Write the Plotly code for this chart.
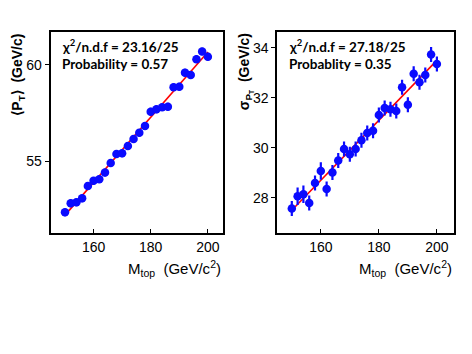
import numpy as np
import plotly.graph_objects as go

# top-quark mass points (GeV/c^2)
mtop = [150, 152, 154, 156, 158, 160, 162, 164, 166, 168, 170, 172, 174,
        176, 178, 180, 182, 184, 186, 188, 190, 192, 194, 196, 198, 200]

# <P_T> (GeV/c)
mean_pt = [52.33, 52.80, 52.85, 53.06, 53.70, 53.97, 54.05, 54.40, 54.90, 55.36,
           55.40, 55.78, 56.15, 56.47, 56.82, 57.57, 57.69, 57.80, 57.83, 58.84,
           58.87, 59.60, 59.48, 60.30, 60.70, 60.43]
mean_pt_err = [0.2, 0.2, 0.2, 0.2, 0.2, 0.2, 0.2, 0.2, 0.2, 0.2, 0.2, 0.2, 0.2,
               0.2, 0.2, 0.2, 0.2, 0.2, 0.2, 0.2, 0.2, 0.2, 0.2, 0.2, 0.2, 0.2]

# sigma of P_T (GeV/c)
sigma_pt = [27.58, 28.07, 28.15, 27.80, 28.60, 29.08, 28.36, 29.02, 29.50, 29.96,
            29.75, 29.96, 30.31, 30.60, 30.69, 31.32, 31.60, 31.55, 31.48, 32.43,
            31.73, 32.97, 32.63, 32.92, 33.74, 33.36]
sigma_pt_err = [0.3, 0.35, 0.35, 0.3, 0.3, 0.35, 0.3, 0.3, 0.3, 0.3, 0.3, 0.3, 0.3,
                0.3, 0.3, 0.3, 0.3, 0.3, 0.3, 0.3, 0.3, 0.3, 0.3, 0.3, 0.3, 0.3]

fit_text_left = ["χ<sup>2</sup>/n.d.f = 23.16/25", "Probability = 0.57"]
fit_text_right = ["χ<sup>2</sup>/n.d.f = 27.18/25", "Probablity = 0.35"]

# page body adds an 8px margin, so the figure is drawn 8px smaller
OFF = 8
W, H = 472 - OFF, 354 - OFF
BLUE = "#0a0aff"
RED = "#ff0000"


def px(x):
    return (x - OFF) / W


def py(y):
    return 1 - (y - OFF) / H


fig = go.Figure()

panels = [
    (mean_pt, mean_pt_err, "x", "y"),
    (sigma_pt, sigma_pt_err, "x2", "y2"),
]
for vals, errs, xa, ya in panels:
    slope, icpt = np.polyfit(mtop, vals, 1)
    fig.add_trace(go.Scatter(
        x=[mtop[0], mtop[-1]], y=[slope * mtop[0] + icpt, slope * mtop[-1] + icpt],
        mode="lines", line=dict(color=RED, width=1.6), xaxis=xa, yaxis=ya,
    ))
    fig.add_trace(go.Scatter(
        x=mtop, y=vals, mode="markers", xaxis=xa, yaxis=ya,
        marker=dict(size=8.5, color=BLUE),
        error_y=dict(type="data", array=errs, color=BLUE, thickness=2.2, width=0),
    ))

ydom = [py(232.7), py(31.7)]
axis_common = dict(
    showline=True, linecolor="black", linewidth=2, mirror=True,
    showgrid=False, zeroline=False, tickcolor="black", automargin=False,
    tickfont=dict(family="Liberation Sans, Arial", size=14, color="black"),
)
fig.update_layout(
    template="none",
    xaxis=dict(domain=[px(50.7), px(223.3)], range=[145, 205.4], anchor="y",
               tickvals=[160, 180, 200], ticks="inside", ticklen=4, **axis_common),
    yaxis=dict(domain=ydom, range=[51.27, 61.73], anchor="x",
               tickvals=[55, 60], ticks="outside", ticklen=4, **axis_common),
    xaxis2=dict(domain=[px(277.3), px(454.3)], range=[145, 206], anchor="y2",
                tickvals=[160, 180, 200], ticks="inside", ticklen=4, **axis_common),
    yaxis2=dict(domain=ydom, range=[26.61, 34.65], anchor="x2",
                tickvals=[28, 30, 32, 34], ticks="outside", ticklen=4, **axis_common),
    width=W, height=H,
    margin=dict(l=0, r=0, t=0, b=0),
    paper_bgcolor="white", plot_bgcolor="white",
    showlegend=False,
)

txt_font = dict(family="Lato, Noto Sans", size=13.5, color="black")
ann = []
for lines, x0 in [(fit_text_left, 59.5), (fit_text_right, 286.5)]:
    for line, yc in zip(lines, [46.5, 64.5]):
        ann.append(dict(text="<b>" + line + "</b>", x=px(x0), y=py(yc), xref="paper", yref="paper",
                        xanchor="left", yanchor="middle", showarrow=False, font=txt_font))

lab_font = dict(family="Liberation Sans, Arial", size=15, color="black")
ytitle_font = dict(family="Liberation Sans, Arial", size=14, color="black")
for xr in [223.3, 454.3]:
    ann.append(dict(text="M<sub>top</sub>  (GeV/c<sup>2</sup>)", x=px(xr), y=py(256),
                    xref="paper", yref="paper", xanchor="right", yanchor="top",
                    showarrow=False, font=lab_font))
ann.append(dict(text="<b>⟨P<sub>T</sub>⟩  (GeV/c)</b>", x=px(18), y=py(31.7), xref="paper", yref="paper",
                xanchor="center", yanchor="top", textangle=-90, showarrow=False, font=ytitle_font))
ann.append(dict(text="<b>σ<sub>P<sub>T</sub></sub>  (GeV/c)</b>", x=px(245), y=py(31.7), xref="paper", yref="paper",
                xanchor="center", yanchor="top", textangle=-90, showarrow=False, font=ytitle_font))
fig.update_layout(annotations=ann)

fig.write_html("out.html")
